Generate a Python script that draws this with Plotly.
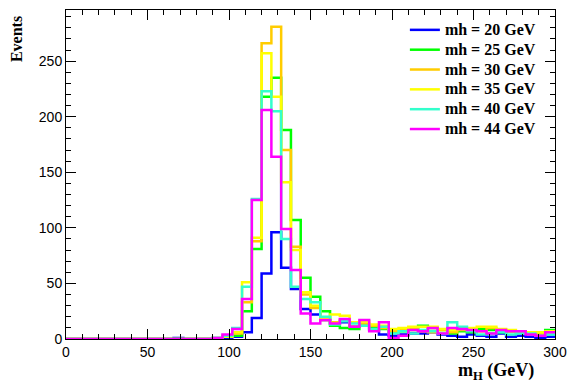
import plotly.graph_objects as go

bin_width = 6
edges = [i * bin_width for i in range(51)]

zeros15 = [0] * 15
mh20 = [0]*11 + [1] + [0]*3 + [0, 1, 2, 6, 19, 59, 96, 64, 45, 27, 22, 17, 14, 15, 11, 12, 8, 4, 3, 4, 5, 5, 6, 4, 3, 2, 4, 3, 2, 5, 2, 3, 2, 1, 2]
mh25 = zeros15 + [1, 2, 3, 25, 81, 218, 235, 188, 107, 55, 38, 25, 12, 10, 9, 12, 10, 9, 6, 7, 8, 12, 10, 8, 5, 7, 6, 9, 8, 6, 7, 6, 5, 6, 8]
mh30 = zeros15 + [0, 2, 5, 33, 88, 266, 281, 170, 83, 40, 28, 17, 15, 17, 11, 14, 12, 10, 7, 8, 9, 7, 6, 8, 6, 8, 9, 7, 10, 8, 7, 6, 5, 4, 6]
mh35 = zeros15 + [0, 2, 6, 51, 91, 257, 218, 141, 80, 42, 30, 19, 22, 21, 15, 16, 13, 12, 9, 10, 11, 11, 11, 9, 8, 9, 10, 11, 11, 9, 8, 7, 6, 6, 7]
mh40 = zeros15 + [1, 3, 10, 47, 126, 223, 205, 90, 47, 36, 33, 20, 13, 16, 14, 12, 9, 11, 5, 7, 5, 8, 7, 5, 15, 11, 7, 4, 5, 6, 4, 5, 5, 3, 4]
mh44 = zeros15 + [1, 4, 9, 36, 125, 206, 164, 99, 62, 23, 14, 17, 14, 18, 11, 17, 7, 15, 1, 3, 8, 7, 10, 5, 10, 9, 8, 7, 5, 8, 7, 7, 4, 3, 6]

series_names = ["mh = 20 GeV", "mh = 25 GeV", "mh = 30 GeV", "mh = 35 GeV", "mh = 40 GeV", "mh = 44 GeV"]
series_values = [mh20, mh25, mh30, mh35, mh40, mh44]
series_colors = ["#0000ff", "#00ff00", "#ffcc00", "#ffff00", "#33ffcc", "#ff00ff"]

x_ticks = [0, 50, 100, 150, 200, 250, 300]
y_ticks = [0, 50, 100, 150, 200, 250]

fig = go.Figure()
for name, vals, col in zip(series_names, series_values, series_colors):
    fig.add_trace(go.Scatter(
        x=edges, y=list(vals) + [vals[-1]],
        mode="lines", line=dict(shape="hv", color=col, width=2.5),
        name='<span style="font-size:16px"><b>' + name + "</b></span>",
    ))

tickfont = dict(family="Liberation Sans, Arial", size=14, color="black")
common = dict(showgrid=False, zeroline=False, ticks="inside", ticklen=10, tickwidth=1,
              tickcolor="black", showline=True, linecolor="black", linewidth=1, mirror="ticks")
minor = dict(ticks="inside", ticklen=5, tickwidth=1, tickcolor="black", showgrid=False)

fig.update_layout(
    width=567, height=374,
    margin=dict(l=58, r=20, t=2, b=43),
    plot_bgcolor="white", paper_bgcolor="white",
    xaxis=dict(range=[0, 300], tickvals=x_ticks, tickfont=tickfont, minor=dict(dtick=10, **minor),
               **common),
    yaxis=dict(range=[0, 296], tickvals=y_ticks, tickfont=tickfont, minor=dict(dtick=10, **minor),
               **common),
    legend=dict(x=0.693, y=0.985, xanchor="left", yanchor="top", bgcolor="rgba(0,0,0,0)",
                font=dict(family="Liberation Serif, Times New Roman", size=12.95, color="black"),
                tracegroupgap=0),
    annotations=[
        dict(text="<b>Events</b>", xref="paper", yref="paper", x=-0.1, y=0.988,
             xanchor="center", yanchor="top", textangle=-90, showarrow=False,
             font=dict(family="Liberation Serif, Times New Roman", size=16, color="black")),
        dict(text="<b>m<sub>H</sub> (GeV)</b>", xref="paper", yref="paper", x=0.961, y=-0.1,
             xanchor="right", yanchor="middle", showarrow=False,
             font=dict(family="Liberation Serif, Times New Roman", size=18, color="black")),
    ],
)

fig.write_html("out.html")
